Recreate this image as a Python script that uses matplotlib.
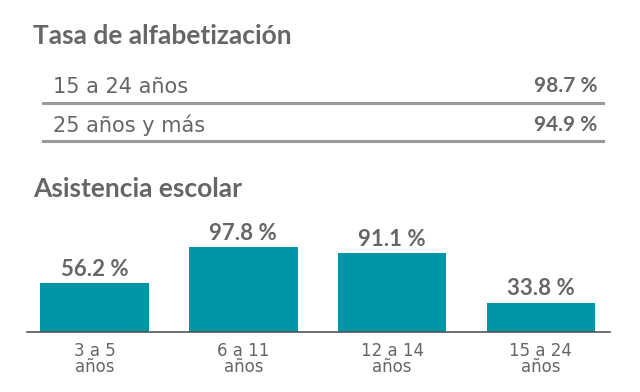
import matplotlib
matplotlib.use("Agg")
import matplotlib.pyplot as plt
from matplotlib.lines import Line2D

# literacy table
lit_labels = ["15 a 24 años", "25 años y más"]
lit_values = ["98.7 %", "94.9 %"]

# school attendance bars
categories = ["3 a 5\naños", "6 a 11\naños", "12 a 14\naños", "15 a 24\naños"]
attendance = [56.2, 97.8, 91.1, 33.8]

TEAL = "#0096A6"
GREY = "#666666"
LINE = "#9a9a9a"
W, H = 640, 392

BOLD = ["Lato", "DejaVu Sans"]
REG = ["DejaVu Sans"]

fig = plt.figure(figsize=(W / 100, H / 100), dpi=100)

def fx(px):
    return px / W

def fy(py):
    return 1 - py / H

fig.text(fx(33), fy(44), "Tasa de alfabetización", fontsize=19, fontweight="bold",
         family=BOLD, color=GREY, va="baseline", ha="left")

row_y = [93, 132]
line_y = [103, 141]
for lab, val, ty, ly in zip(lit_labels, lit_values, row_y, line_y):
    fig.text(fx(53), fy(ty), lab, fontsize=15, family=REG, color=GREY,
             va="baseline", ha="left")
    fig.text(fx(597), fy(ty - 1), val, fontsize=15, fontweight="bold", family=BOLD,
             color=GREY, va="baseline", ha="right")
    fig.add_artist(Line2D([fx(43), fx(603)], [fy(ly), fy(ly)], color=LINE, lw=2.2,
                          transform=fig.transFigure))

fig.text(fx(33), fy(197), "Asistencia escolar", fontsize=19, fontweight="bold",
         family=BOLD, color=GREY, va="baseline", ha="left")

ax = fig.add_axes([fx(27), fy(332), fx(610) - fx(27), (332 - 205) / H])
x = range(len(categories))
ax.bar(x, attendance, width=0.73, color=TEAL)
for xi, v in zip(x, attendance):
    ax.text(xi, v + 3.5, f"{v:.1f} %", ha="center", va="bottom", fontsize=16,
            fontweight="bold", family=BOLD, color=GREY)
ax.set_xlim(-0.454, 3.465)
ax.set_ylim(0, 127 / 0.872)
ax.set_xticks(list(x))
ax.set_xticklabels(categories, fontsize=12, family=REG, color=GREY, linespacing=0.85)
ax.tick_params(axis="x", length=0, pad=7)
ax.set_yticks([])
for s in ["top", "left", "right"]:
    ax.spines[s].set_visible(False)
ax.spines["bottom"].set_color("#555555")
ax.spines["bottom"].set_linewidth(1.2)
ax.patch.set_alpha(0)

fig.savefig("out.png", dpi=100)
